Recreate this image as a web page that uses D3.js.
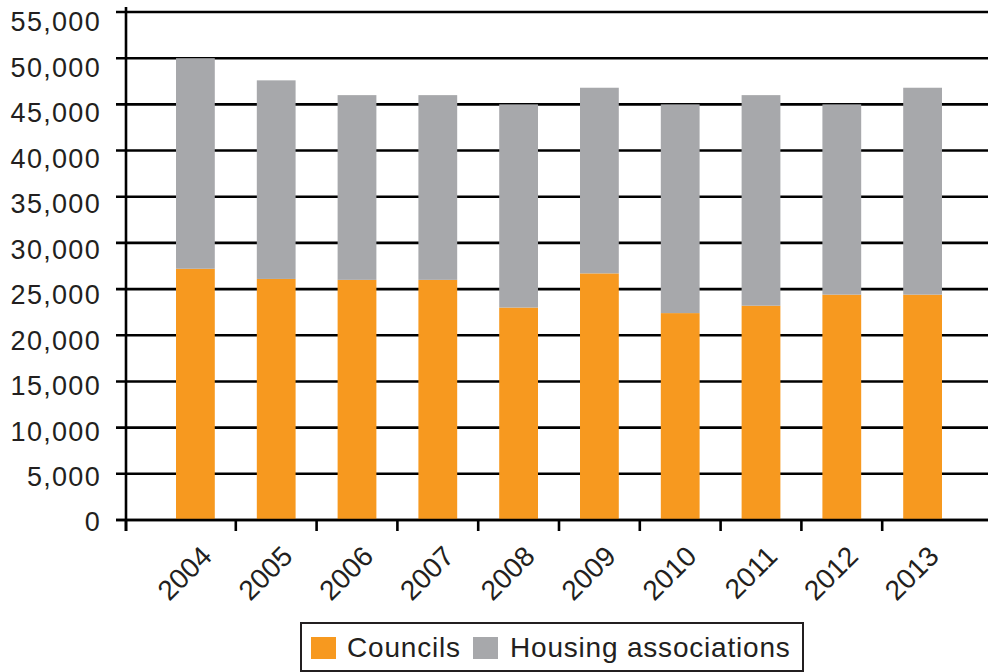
<!DOCTYPE html>
<html>
<head>
<meta charset="utf-8">
<script src="https://cdn.jsdelivr.net/npm/d3@7"></script>
<style>
  body { margin: 0; background: #fff; }
  svg { display: block; font-family: "Liberation Sans", Arial, Helvetica, sans-serif; }
</style>
</head>
<body>
<svg width="988" height="672"></svg>
<script>
// data
const years = ["2004", "2005", "2006", "2007", "2008", "2009", "2010", "2011", "2012", "2013"];
const councils = [27200, 26100, 26000, 26000, 23000, 26700, 22400, 23200, 24400, 24400];
const housingAssoc = [22800, 21500, 20000, 20000, 22000, 20100, 22600, 22800, 20600, 22400];
const yTicks = [0, 5000, 10000, 15000, 20000, 25000, 30000, 35000, 40000, 45000, 50000, 55000];
const seriesNames = ["Councils", "Housing associations"];
const colors = ["#f7991f", "#a7a8ab"];
const ink = "#231f20";

const svg = d3.select("svg");
const plotLeft = 126, plotRight = 988, plotBottom = 520, plotTop = 12;

const y = d3.scaleLinear().domain([0, 55000]).range([plotBottom, plotTop]);
// the tick labels sit a bit lower than the gridlines in the original
const yLab = d3.scaleLinear().domain([0, 55000]).range([522, 22]);

const x = d3.scaleBand()
  .domain(years)
  .range([155, 963])
  .paddingInner(0.52)
  .paddingOuter(0.26);

// gridlines
svg.append("g")
  .selectAll("line")
  .data(yTicks)
  .join("line")
    .attr("x1", plotLeft - 10)
    .attr("x2", plotRight)
    .attr("y1", d => y(d))
    .attr("y2", d => y(d))
    .attr("stroke", "#000")
    .attr("stroke-width", 2.6);

// y labels
svg.append("g")
  .selectAll("text")
  .data(yTicks)
  .join("text")
    .attr("x", 101)
    .attr("y", d => yLab(d))
    .attr("dy", "0.35em")
    .attr("text-anchor", "end")
    .attr("font-size", 27)
    .attr("letter-spacing", 1.3)
    .attr("fill", ink)
    .text(d => d3.format(",")(d));

// stacked bars
const rows = years.map((yr, i) => ({year: yr, Councils: councils[i], "Housing associations": housingAssoc[i]}));
const stacked = d3.stack().keys(seriesNames)(rows);

svg.append("g")
  .selectAll("g")
  .data(stacked)
  .join("g")
    .attr("fill", (d, i) => colors[i])
  .selectAll("rect")
  .data(d => d)
  .join("rect")
    .attr("x", d => x(d.data.year))
    .attr("width", x.bandwidth())
    .attr("y", d => y(d[1]))
    .attr("height", d => y(d[0]) - y(d[1]));

// x axis line + ticks between bars
svg.append("line")
  .attr("x1", plotLeft - 10).attr("x2", plotRight)
  .attr("y1", plotBottom).attr("y2", plotBottom)
  .attr("stroke", "#000").attr("stroke-width", 2.6);

const tickXs = [plotLeft].concat(years.slice(1).map(d => x(d) - x.step() * x.paddingInner() / 2));
svg.append("g")
  .selectAll("line")
  .data(tickXs)
  .join("line")
    .attr("x1", d => d).attr("x2", d => d)
    .attr("y1", plotBottom).attr("y2", plotBottom + 11)
    .attr("stroke", "#000").attr("stroke-width", 2.6);

// y axis line
svg.append("line")
  .attr("x1", plotLeft).attr("x2", plotLeft)
  .attr("y1", 7).attr("y2", plotBottom + 11)
  .attr("stroke", "#000").attr("stroke-width", 2.6);

// x labels, rotated
svg.append("g")
  .selectAll("text")
  .data(years)
  .join("text")
    .attr("transform", d => `translate(${x(d) + x.bandwidth() / 2 + 18},558) rotate(-45)`)
    .attr("text-anchor", "end")
    .attr("font-size", 28)
    .attr("fill", ink)
    .text(d => d);

// legend
const legend = svg.append("g");
legend.append("rect")
  .attr("x", 301).attr("y", 623)
  .attr("width", 502).attr("height", 48)
  .attr("fill", "#fff")
  .attr("stroke", ink).attr("stroke-width", 2);

const legendItems = [{x: 311, tx: 347}, {x: 473, tx: 510}];
legend.selectAll("rect.sw")
  .data(seriesNames)
  .join("rect")
    .attr("class", "sw")
    .attr("x", (d, i) => legendItems[i].x)
    .attr("y", 637)
    .attr("width", 25).attr("height", 22)
    .attr("fill", (d, i) => colors[i]);

legend.selectAll("text")
  .data(seriesNames)
  .join("text")
    .attr("x", (d, i) => legendItems[i].tx)
    .attr("y", 657)
    .attr("font-size", 28)
    .attr("letter-spacing", 0.8)
    .attr("fill", ink)
    .text(d => d);
</script>
</body>
</html>
